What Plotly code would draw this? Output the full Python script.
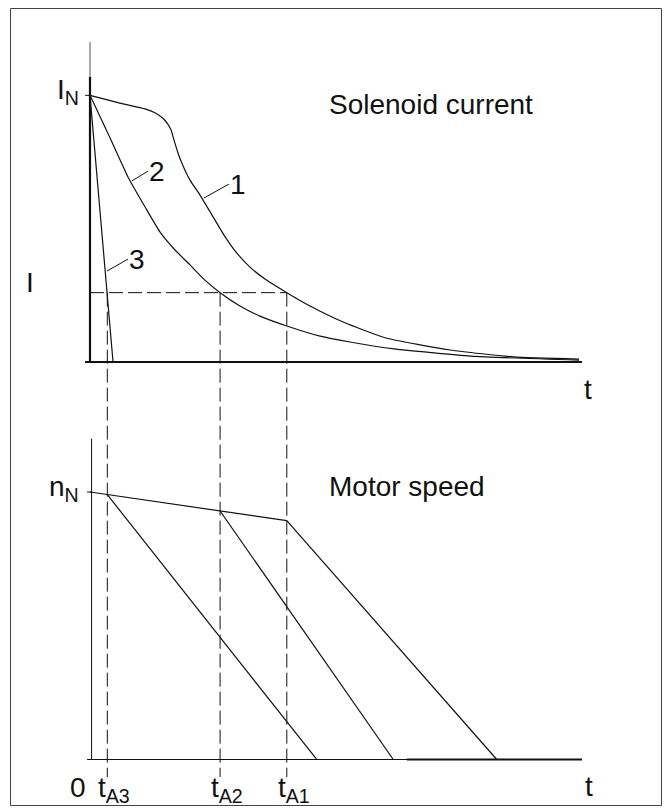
import plotly.graph_objects as go

# ---- data (time in arbitrary units, current and speed relative to rated values) ----
T_MAX = 25.0
I_DROP = 0.26                     # drop-out current level "I"
t_release = [0.88, 6.61, 10.0]    # t_A3, t_A2, t_A1
release_labels = ["t<sub>A3</sub>", "t<sub>A2</sub>", "t<sub>A1</sub>"]

# solenoid current curves
curve1_t = [0, 1.52, 2.80, 3.30, 3.66, 3.91, 4.12, 4.27, 4.47, 4.73, 5.08, 5.59,
            6.20, 6.81, 7.42, 8.13, 8.89, 10.0, 11.18, 12.86, 15.04, 18.29, 21.54, 24.85]
curve1_i = [1.0, 0.971, 0.949, 0.935, 0.917, 0.897, 0.870, 0.832, 0.784, 0.735, 0.682, 0.626,
            0.551, 0.476, 0.412, 0.356, 0.311, 0.26, 0.210, 0.150, 0.090, 0.045, 0.019, 0.011]
curve2_t = [0, 1.02, 1.93, 2.80, 3.56, 4.32, 5.08, 5.84, 6.61, 7.62, 8.64, 10.0,
            11.69, 13.21, 15.45, 19.36, 24.85]
curve2_i = [1.0, 0.840, 0.694, 0.581, 0.487, 0.420, 0.364, 0.307, 0.26, 0.210, 0.172, 0.135,
            0.097, 0.075, 0.049, 0.022, 0.007]
curve3_t = [0, 1.17]
curve3_i = [1.0, 0.0]

# motor speed: common run-down line, then braking from each release point
speed_line_t = [0, 10.0]
speed_line_n = [1.0, 0.893]
release_n = [0.99, 0.929, 0.893]
stop_t = [11.52, 15.41, 20.67]

# curve number labels: (leader start t, I), (leader end t, I), label
curve_labels = [
    ((5.79, 0.615), (7.06, 0.667), "1"),
    ((2.13, 0.679), (2.95, 0.716), "2"),
    ((0.864, 0.341), (1.93, 0.386), "3"),
]

# ---- layout geometry ----
W, H = 672, 809
X_RANGE = [-0.3, T_MAX]
Y_RANGE = [-0.03, 1.2]
x_dom = [84.1 / W, 582 / W]
top_dom = [(H - 370) / H, (H - 42) / H]
bot_dom = [(H - 767.5) / H, (H - 438.5) / H]

FONT = "Liberation Sans, Arial, sans-serif"
FS = 28
BLACK = "#111"


def to_paper(v, dom):
    return dom[0] + (v - Y_RANGE[0]) / (Y_RANGE[1] - Y_RANGE[0]) * (dom[1] - dom[0])


fig = go.Figure()
line = dict(color=BLACK, width=1.2)

for tt, ii in [(curve1_t, curve1_i), (curve2_t, curve2_i)]:
    fig.add_trace(go.Scatter(x=tt, y=ii, mode="lines",
                             line=dict(line, shape="spline", smoothing=0.5),
                             xaxis="x", yaxis="y", hoverinfo="skip"))
fig.add_trace(go.Scatter(x=curve3_t, y=curve3_i, mode="lines", line=line,
                         xaxis="x", yaxis="y", hoverinfo="skip"))

fig.add_trace(go.Scatter(x=speed_line_t, y=speed_line_n, mode="lines", line=line,
                         xaxis="x2", yaxis="y2", hoverinfo="skip"))
for t0, n0, t1 in zip(t_release, release_n, stop_t):
    fig.add_trace(go.Scatter(x=[t0, t1], y=[n0, 0], mode="lines", line=line,
                             xaxis="x2", yaxis="y2", hoverinfo="skip"))

shapes = []
# axes of the current plot
shapes.append(dict(type="line", xref="x", yref="y", x0=-0.25, x1=T_MAX, y0=0, y1=0,
                   line=dict(color=BLACK, width=1.8)))
shapes.append(dict(type="line", xref="x", yref="y", x0=0, x1=0, y0=0, y1=1.07,
                   line=dict(color=BLACK, width=2.2)))
shapes.append(dict(type="line", xref="x", yref="y", x0=0, x1=0, y0=1.07, y1=1.2,
                   line=dict(color="#555", width=1)))
shapes.append(dict(type="line", xref="x", yref="y", x0=-0.25, x1=0, y0=1, y1=1,
                   line=dict(color=BLACK, width=1)))
# axes of the speed plot
shapes.append(dict(type="line", xref="x2", yref="y2", x0=-0.15, x1=T_MAX, y0=0, y1=0,
                   line=dict(color=BLACK, width=1.2)))
shapes.append(dict(type="line", xref="x2", yref="y2", x0=16.1, x1=T_MAX, y0=0, y1=0,
                   line=dict(color=BLACK, width=2)))
shapes.append(dict(type="line", xref="x2", yref="y2", x0=0.08, x1=0.08, y0=0, y1=1.2,
                   line=dict(color=BLACK, width=1)))
shapes.append(dict(type="line", xref="x2", yref="y2", x0=-0.15, x1=0.08, y0=1, y1=1,
                   line=dict(color=BLACK, width=1)))
# drop-out level and release instants
dash = dict(color=BLACK, width=1, dash="14px,5px")
shapes.append(dict(type="line", xref="x", yref="y", x0=0, x1=t_release[2], y0=I_DROP, y1=I_DROP,
                   line=dash))
y_top = to_paper(I_DROP, top_dom)
y_bot = (H - 777) / H
for t in t_release:
    shapes.append(dict(type="line", xref="x", yref="paper", x0=t, x1=t, y0=y_top, y1=y_bot,
                       line=dash))
# curve number leaders
for (a, b, _) in curve_labels:
    shapes.append(dict(type="line", xref="x", yref="y", x0=a[0], y0=a[1], x1=b[0], y1=b[1],
                       line=dict(color=BLACK, width=1)))
# outer frame
shapes.append(dict(type="rect", xref="paper", yref="paper", x0=10.5 / W, x1=661.5 / W,
                   y0=(H - 805.5) / H, y1=(H - 8.5) / H, line=dict(color="#444", width=1)))

ann = []
txt = dict(showarrow=False, font=dict(family=FONT, size=FS, color=BLACK))
for (_, b, lab) in curve_labels:
    ann.append(dict(txt, xref="x", yref="y", x=b[0], y=b[1], text=lab, xanchor="left",
                    yanchor="middle", xshift=-1))
ann.append(dict(txt, xref="x", yref="y", x=12.05, y=0.967, text="Solenoid current",
                xanchor="left", yanchor="middle"))
ann.append(dict(txt, xref="x2", yref="y2", x=12.05, y=1.022, text="Motor speed",
                xanchor="left", yanchor="middle"))
ann.append(dict(txt, xref="x", yref="y", x=0, y=1.0, text="I<sub>N</sub>",
                xanchor="right", yanchor="middle", xshift=-9, yshift=4))
ann.append(dict(txt, xref="x", yref="y", x=0, y=I_DROP, text="I",
                xanchor="center", yanchor="middle", xshift=-60, yshift=10))
ann.append(dict(txt, xref="x2", yref="y2", x=0, y=1.0, text="n<sub>N</sub>",
                xanchor="right", yanchor="middle", xshift=-9, yshift=4))
ann.append(dict(txt, xref="x", yref="y", x=T_MAX, y=0, text="t",
                xanchor="center", yanchor="middle", xshift=6, yshift=-27))
ann.append(dict(txt, xref="x2", yref="y2", x=T_MAX, y=0, text="t",
                xanchor="center", yanchor="middle", xshift=7, yshift=-27))
ann.append(dict(txt, xref="x2", yref="y2", x=0, y=0, text="0",
                xanchor="center", yanchor="middle", xshift=-12, yshift=-28))
for t, lab in zip(t_release, release_labels):
    ann.append(dict(txt, xref="x2", yref="y2", x=t, y=0, text=lab,
                    xanchor="center", yanchor="middle", xshift=7, yshift=-30))

hidden = dict(showgrid=False, zeroline=False, showline=False, showticklabels=False,
              ticks="", fixedrange=True)
fig.update_layout(
    width=W, height=H, margin=dict(l=0, r=0, t=0, b=0),
    paper_bgcolor="white", plot_bgcolor="white", showlegend=False,
    xaxis=dict(hidden, domain=x_dom, range=X_RANGE, anchor="y"),
    yaxis=dict(hidden, domain=top_dom, range=Y_RANGE, anchor="x"),
    xaxis2=dict(hidden, domain=x_dom, range=X_RANGE, anchor="y2"),
    yaxis2=dict(hidden, domain=bot_dom, range=Y_RANGE, anchor="x2"),
    shapes=shapes, annotations=ann,
)

fig.write_html("out.html")
